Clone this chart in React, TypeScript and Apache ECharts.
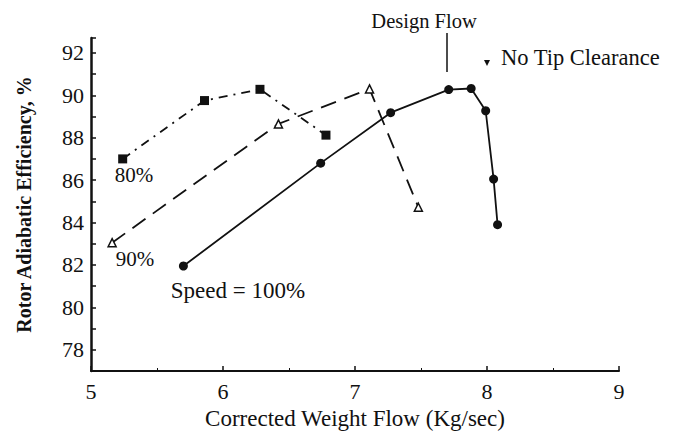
import React, { useEffect, useRef } from "react";
import * as echarts from "echarts";

const speed80: [number, number][] = [
  [5.24, 87.0],
  [5.86, 89.75],
  [6.28, 90.28],
  [6.78, 88.12],
];
const speed90: [number, number][] = [
  [5.16, 83.05],
  [6.42, 88.65],
  [7.11, 90.3],
  [7.48, 84.72],
];
const speed100: [number, number][] = [
  [5.7, 81.95],
  [6.74, 86.8],
  [7.27, 89.18],
  [7.71, 90.27],
  [7.88, 90.32],
  [7.99, 89.27],
  [8.05, 86.05],
  [8.08, 83.9],
];
const xTicks = [5, 6, 7, 8, 9];
const yTicks = [78, 80, 82, 84, 86, 88, 90, 92];
const seriesLabels = ["80%", "90%", "Speed = 100%"];
const annotations = ["Design Flow", "No Tip Clearance"];

const FONT = "'Liberation Serif', 'Times New Roman', serif";

export default function App() {
  const ref = useRef<HTMLDivElement>(null);
  useEffect(() => {
    if (!ref.current) return;
    const chart = echarts.init(ref.current, null, { renderer: "svg" });
    const textStyle = { fontFamily: FONT, fontSize: 21, fill: "#111" };
    chart.setOption({
      animation: false,
      backgroundColor: "#fff",
      textStyle: { fontFamily: FONT, color: "#111" },
      grid: { left: 91, right: 62, top: 38, bottom: 67 },
      xAxis: {
        type: "value",
        min: xTicks[0],
        max: xTicks[xTicks.length - 1],
        interval: 1,
        name: "Corrected Weight Flow (Kg/sec)",
        nameLocation: "middle",
        nameGap: 30,
        nameTextStyle: { fontFamily: FONT, fontSize: 23, color: "#111" },
        axisLine: { lineStyle: { color: "#111", width: 2 } },
        axisTick: { inside: true, length: 5, lineStyle: { color: "#111", width: 1.5 } },
        minorTick: { show: true, splitNumber: 2, length: 3, lineStyle: { color: "#111" } },
        splitLine: { show: false },
        axisLabel: { fontFamily: FONT, fontSize: 22, color: "#111", margin: 9 },
      },
      yAxis: {
        type: "value",
        min: 77,
        max: 92.7,
        interval: 1,
        name: "Rotor Adiabatic Efficiency, %",
        nameLocation: "middle",
        nameGap: 57,
        nameTextStyle: { fontFamily: FONT, fontSize: 20, fontWeight: "bold", color: "#111" },
        axisLine: { lineStyle: { color: "#111", width: 2.5 } },
        axisTick: { inside: true, length: 5, lineStyle: { color: "#111", width: 1.5 } },
        splitLine: { show: false },
        axisLabel: {
          fontFamily: FONT,
          fontSize: 22,
          color: "#111",
          margin: 7,
          formatter: (v: number) => (yTicks.includes(v) ? String(v) : ""),
        },
      },
      series: [
        {
          name: seriesLabels[0],
          type: "line",
          data: speed80,
          symbol: "rect",
          symbolSize: 9,
          itemStyle: { color: "#111" },
          lineStyle: { color: "#111", width: 1.8, type: [9, 6, 2, 6] },
        },
        {
          name: seriesLabels[1],
          type: "line",
          data: speed90,
          symbol: "triangle",
          symbolSize: 8,
          itemStyle: { color: "#fff", borderColor: "#111", borderWidth: 1.5 },
          lineStyle: { color: "#111", width: 1.8, type: [16, 9] },
        },
        {
          name: seriesLabels[2],
          type: "line",
          data: speed100,
          symbol: "circle",
          symbolSize: 9,
          itemStyle: { color: "#111" },
          lineStyle: { color: "#111", width: 1.8 },
        },
      ],
      graphic: [
        { type: "text", x: 134, y: 175, style: { ...textStyle, text: seriesLabels[0], align: "center", verticalAlign: "middle" } },
        { type: "text", x: 135, y: 259, style: { ...textStyle, text: seriesLabels[1], align: "center", verticalAlign: "middle" } },
        { type: "text", x: 238, y: 290, style: { ...textStyle, fontSize: 23, text: seriesLabels[2], align: "center", verticalAlign: "middle" } },
        { type: "text", x: 424, y: 21, style: { ...textStyle, fontSize: 20.5, text: annotations[0], align: "center", verticalAlign: "middle" } },
        { type: "line", shape: { x1: 447, y1: 33, x2: 447, y2: 72 }, style: { stroke: "#111", lineWidth: 1.5 } },
        { type: "polygon", shape: { points: [[484, 60], [490, 60], [487, 66]] }, style: { fill: "#111" } },
        { type: "text", x: 501, y: 57, style: { ...textStyle, fontSize: 22.5, text: annotations[1], align: "left", verticalAlign: "middle" } },
      ],
    });
    return () => chart.dispose();
  }, []);
  return <div ref={ref} style={{ width: 681, height: 438, position: "absolute", left: 0, top: 0 }} />;
}
